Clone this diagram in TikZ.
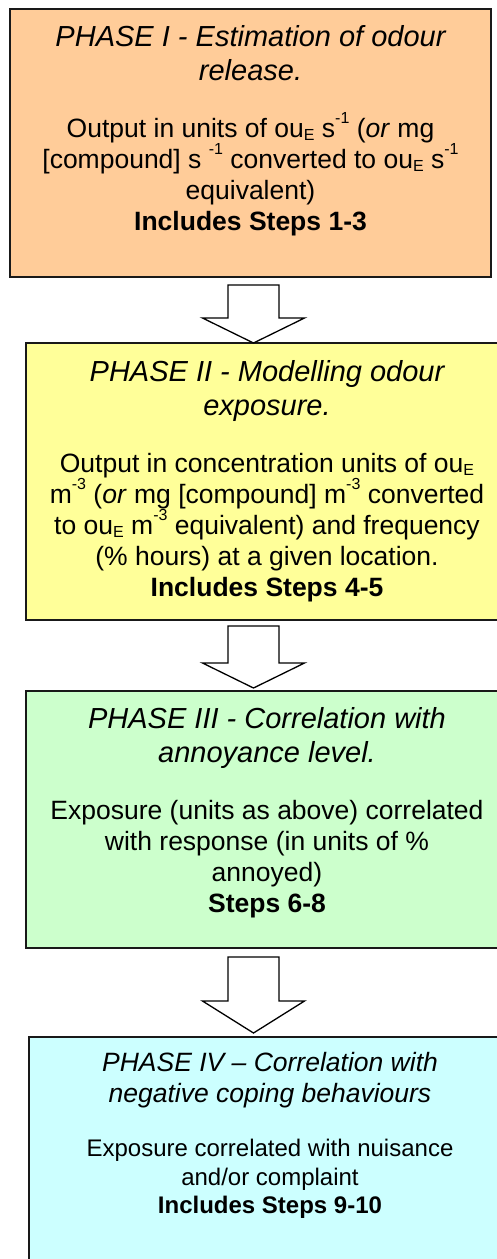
\documentclass[tikz,border=0pt]{standalone}
\usepackage{fontspec}
\setmainfont{Liberation Sans}
\usetikzlibrary{positioning}

\definecolor{phaseorange}{RGB}{255,204,153}
\definecolor{phaseyellow}{RGB}{255,255,153}
\definecolor{phasegreen}{RGB}{204,255,204}
\definecolor{phasecyan}{RGB}{204,255,255}

\newcommand{\fixspace}{\spaceskip=\fontdimen2\font\xspaceskip=\spaceskip}
\newcommand{\phtitle}{\fontsize{29}{34}\selectfont\itshape\fixspace}
\newcommand{\phbody}{\fontsize{26.5}{31}\selectfont\fixspace}
\newcommand{\phtitlesm}{\fontsize{26.5}{31}\selectfont\itshape\fixspace}
\newcommand{\phbodysm}{\fontsize{24}{28.5}\selectfont\fixspace}
\newcommand{\sups}[1]{\raisebox{14pt}[0pt][0pt]{\fontsize{16}{16}\selectfont #1}}
\newcommand{\subs}[1]{\raisebox{-3.3pt}[0pt][0pt]{\fontsize{16}{16}\selectfont #1}}

\begin{document}
\begin{tikzpicture}
[x=1pt,y=-1pt,
 phase/.style={rectangle,draw=black!90,line width=1.6pt,inner sep=0pt,minimum width=482pt},
 phasetext/.style={anchor=north,inner sep=0pt,text width=476pt,align=center},
 blockarrow/.style={draw=black,line width=1.3pt,fill=white,line join=miter}]
\useasboundingbox (0,0) rectangle (497,1259);
\clip (0,0) rectangle (497,1259);
% phase boxes
\node[phase,fill=phaseorange,minimum width=481pt,minimum height=268pt] (P1) at (250.5, 143)  {};
\node[phase,fill=phaseyellow,minimum height=277pt] (P2) at (267, 481.5) {};
\node[phase,fill=phasegreen, minimum height=257pt] (P3) at (267, 819.5) {};
\node[phase,fill=phasecyan,  minimum height=246pt] (P4) at (270, 1160)  {};
% texts
\node[phasetext,below=14pt of P1.north] (T1) {%
  {\phtitle\rule{0pt}{24pt}PHASE I - Estimation of odour\\ release.\par}
  \vspace{26pt}
  {\phbody Output in units of ou\subs{E} s\sups{-1} (\textit{or} mg\\
   {}[compound] s \sups{-1} converted to ou\subs{E} s\sups{-1}\\
   equivalent)\\
   \textbf{Includes Steps 1-3}\par}};
\node[phasetext,below=15pt of P2.north] (T2) {%
  {\phtitle\rule{0pt}{24pt}PHASE II - Modelling odour\\ exposure.\par}
  \vspace{26pt}
  {\phbody Output in concentration units of ou\subs{E}\\
   m\sups{-3} (\textit{or} mg [compound] m\sups{-3} converted\\
   to ou\subs{E} m\sups{-3} equivalent) and frequency\\
   (\% hours) at a given location.\\
   \textbf{Includes Steps 4-5}\par}};
\node[phasetext,below=14pt of P3.north] (T3) {%
  {\phtitle\rule{0pt}{24pt}PHASE III - Correlation with\\ annoyance level.\par}
  \vspace{26pt}
  {\phbody Exposure (units as above) correlated\\
   with response (in units of \%\\
   annoyed)\\
   \textbf{Steps 6-8}\par}};
\node[phasetext,below=11pt of P4.north] (T4) {%
  {\phtitlesm\rule{0pt}{24pt}PHASE IV – Correlation with\\ negative coping behaviours\par}
  \vspace{26pt}
  {\phbodysm Exposure correlated with nuisance\\
   and/or complaint\\
   \textbf{Includes Steps 9-10}\par}};
% block arrows between phases
\foreach \ya/\yb/\yc in {285/318/343, 626/663/688, 957/1001/1033}
  \draw[blockarrow] (228,\ya) -- (279,\ya) -- (279,\yb) -- (304.5,\yb)
    -- (253.5,\yc) -- (202.5,\yb) -- (228,\yb) -- cycle;
\end{tikzpicture}
\end{document}
